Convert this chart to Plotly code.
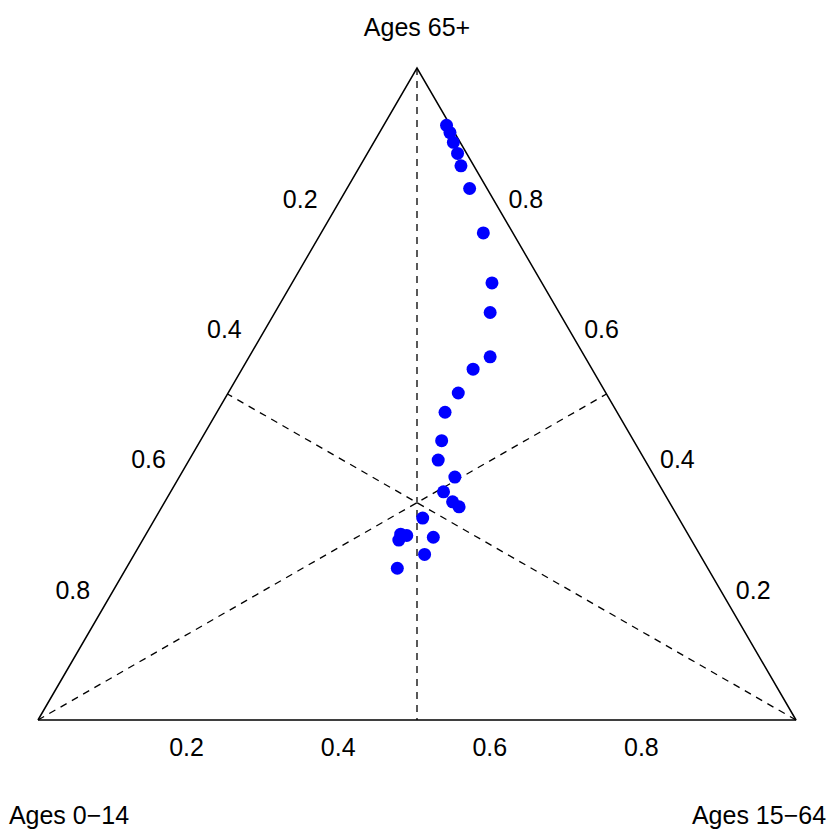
import plotly.graph_objects as go
import math

# ---- data (fractions: ages 0-14, ages 15-64, ages 65+) ----
ages_0_14 = [0.005, 0.006, 0.009, 0.012, 0.017, 0.023, 0.039, 0.066, 0.091, 0.125,
             0.157, 0.195, 0.227, 0.253, 0.273, 0.264, 0.290, 0.286, 0.281, 0.338,
             0.338, 0.372, 0.379, 0.386, 0.363, 0.410]
ages_15_64 = [0.083, 0.093, 0.105, 0.119, 0.133, 0.162, 0.214, 0.264, 0.284, 0.318,
              0.305, 0.304, 0.301, 0.318, 0.329, 0.364, 0.360, 0.380, 0.392, 0.353,
              0.381, 0.345, 0.336, 0.338, 0.383, 0.358]
ages_65p = [0.913, 0.901, 0.886, 0.869, 0.850, 0.816, 0.747, 0.671, 0.625, 0.557,
            0.538, 0.502, 0.472, 0.428, 0.399, 0.373, 0.350, 0.335, 0.327, 0.310,
            0.280, 0.283, 0.285, 0.276, 0.254, 0.233]
axis_names = ["Ages 0\u221214", "Ages 15\u221264", "Ages 65+"]
ticks = [0.2, 0.4, 0.6, 0.8]
tick_labels = ["0.2", "0.4", "0.6", "0.8"]

# ---- layout geometry (pixels) ----
W = H = 833
X0, X1 = 38, 796      # bottom vertices
YB, YT = 720, 68      # bottom edge / apex
SX = X1 - X0
SY = YB - YT


def tern(a, b, c):
    s = a + b + c
    a, b, c = a / s, b / s, c / s
    return b + c / 2.0, c


def dx(px):
    return px / SX


def dy(px):
    return px / SY


FONT = dict(family="Liberation Sans, Arial, sans-serif", size=25, color="black")
TDOWN = 3  # text baseline adjustment (px)

fig = go.Figure()

# triangle outline
verts = [tern(1, 0, 0), tern(0, 1, 0), tern(0, 0, 1), tern(1, 0, 0)]
fig.add_trace(go.Scatter(x=[v[0] for v in verts], y=[v[1] for v in verts],
                         mode="lines", line=dict(color="black", width=1.5),
                         hoverinfo="skip", cliponaxis=False))

# medians (dashed)
med_pairs = [((1, 0, 0), (0, 0.5, 0.5)), ((0, 1, 0), (0.5, 0, 0.5)), ((0, 0, 1), (0.5, 0.5, 0))]
for p, q in med_pairs:
    a = tern(*p)
    b = tern(*q)
    fig.add_trace(go.Scatter(x=[a[0], b[0]], y=[a[1], b[1]], mode="lines",
                             line=dict(color="black", width=1.3, dash="7px,6px"),
                             hoverinfo="skip"))

# data points
pts = [tern(a, b, c) for a, b, c in zip(ages_0_14, ages_15_64, ages_65p)]
fig.add_trace(go.Scatter(x=[p[0] for p in pts], y=[p[1] for p in pts], mode="markers",
                         marker=dict(color="#0000FF", size=13, line=dict(width=0)),
                         hoverinfo="skip"))

# tick labels
bx, by, lx, ly, rx, ry = [], [], [], [], [], []
for t in ticks:
    x, y = tern(1 - t, t, 0)          # bottom: ages 15-64
    bx.append(x + dx(-3)); by.append(y - dy(27 + TDOWN))
    x, y = tern(t, 0, 1 - t)          # left: ages 0-14
    lx.append(x - dx(41)); ly.append(y - dy(TDOWN))
    x, y = tern(0, 1 - t, t)          # right: ages 65+
    rx.append(x + dx(33)); ry.append(y - dy(TDOWN))
for xs, ys in [(bx, by), (lx, ly), (rx, ry)]:
    fig.add_trace(go.Scatter(x=xs, y=ys, mode="text", text=tick_labels,
                             textposition="middle center", textfont=FONT,
                             hoverinfo="skip", cliponaxis=False))

# vertex labels
vl = tern(1, 0, 0)
vr = tern(0, 1, 0)
vt = tern(0, 0, 1)
fig.add_trace(go.Scatter(
    x=[vl[0] + dx(31), vr[0] - dx(37), vt[0]],
    y=[vl[1] - dy(95 + TDOWN), vr[1] - dy(95 + TDOWN), vt[1] + dy(41 - TDOWN)],
    mode="text", text=axis_names, textposition="middle center", textfont=FONT,
    hoverinfo="skip", cliponaxis=False))

fig.update_layout(
    width=W, height=H,
    margin=dict(l=0, r=0, t=0, b=0),
    paper_bgcolor="white", plot_bgcolor="white",
    showlegend=False, hovermode=False,
    xaxis=dict(range=[-X0 / SX, (W - X0) / SX], visible=False, fixedrange=True),
    yaxis=dict(range=[(YB - H) / SY, YB / SY], visible=False, fixedrange=True),
)

fig.write_html("out.html")
